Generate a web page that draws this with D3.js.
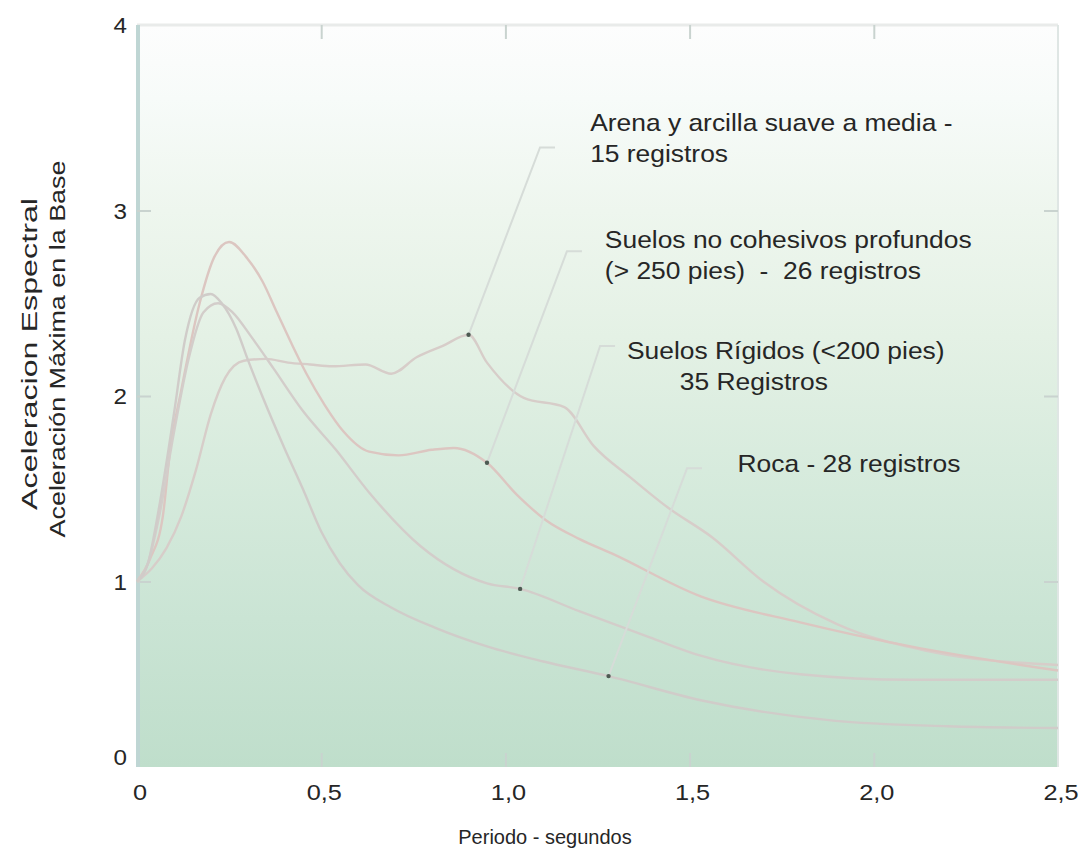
<!DOCTYPE html>
<html><head><meta charset="utf-8">
<script src="https://cdn.jsdelivr.net/npm/d3@7"></script>
<style>
body{margin:0;background:#fff;}
svg{display:block;}
text{font-family:"Liberation Sans",Arial,sans-serif;fill:#262626;}
</style>
</head><body><svg id="c" width="1081" height="852"></svg>
<script>
// ---- data ----
const xTicks=[0,0.5,1,1.5,2,2.5];
const xTickLabels=["0","0,5","1,0","1,5","2,0","2,5"];
const yTicks=[0,1,2,3,4];
const yTickLabels=["0","1","2","3","4"];
const xTitle="Periodo - segundos";
const yTitleLines=["Aceleracion Espectral","Aceleración Máxima en la Base"];

const periodArena=[0,0.04,0.08,0.12,0.16,0.2,0.24,0.29,0.35,0.41,0.47,0.53,0.62,0.69,0.76,0.83,0.9,0.95,1.05,1.16,1.24,1.34,1.44,1.56,1.7,1.9,2.16,2.5];
const accelArena=[1,1.07,1.18,1.35,1.6,1.9,2.1,2.19,2.2,2.18,2.17,2.16,2.17,2.12,2.21,2.27,2.33,2.18,1.99,1.94,1.73,1.56,1.4,1.24,1.0,0.77,0.62,0.55];

const periodCohesivos=[0,0.035,0.07,0.09,0.12,0.17,0.21,0.25,0.3,0.34,0.38,0.42,0.46,0.51,0.56,0.63,0.71,0.8,0.86,0.95,1.03,1.11,1.2,1.29,1.53,1.8,2.1,2.5];
const accelCohesivos=[1,1.12,1.35,1.71,2.03,2.5,2.75,2.83,2.74,2.62,2.45,2.28,2.12,1.95,1.81,1.7,1.68,1.71,1.72,1.64,1.47,1.33,1.23,1.15,0.92,0.78,0.65,0.52];

const periodRigidos=[0,0.03,0.06,0.1,0.14,0.18,0.22,0.26,0.31,0.37,0.45,0.54,0.63,0.77,0.95,1.04,1.2,1.39,1.53,1.8,2.1,2.5];
const accelRigidos=[1,1.1,1.35,1.8,2.2,2.45,2.5,2.45,2.32,2.15,1.92,1.71,1.48,1.19,0.99,0.96,0.84,0.7,0.6,0.5,0.47,0.47];

const periodRoca=[0,0.03,0.06,0.1,0.13,0.17,0.2,0.23,0.27,0.3,0.34,0.4,0.45,0.5,0.55,0.6,0.69,0.81,0.95,1.1,1.28,1.53,1.89,2.2,2.5];
const accelRoca=[1,1.1,1.4,1.9,2.3,2.53,2.55,2.5,2.36,2.2,2.0,1.72,1.5,1.27,1.1,0.98,0.86,0.75,0.65,0.57,0.49,0.36,0.25,0.22,0.21];

// annotation: marker point on curve, leader end, label lines
const markerPeriod=[0.9,0.95,1.04,1.28];
const markerAccel=[2.33,1.64,0.96,0.49];
const leaderPeriod=[1.094,1.167,1.257,1.493];
const leaderAccel=[3.34,2.78,2.27,1.61];
const labelLines=[
  ["Arena y arcilla suave a media -","15 registros"],
  ["Suelos no cohesivos profundos","(> 250 pies)  -  26 registros"],
  ["Suelos Rígidos (<200 pies)","35 Registros"],
  ["Roca - 28 registros"]
];
const labelPeriod=[1.23,1.27,1.33,1.63];
const labelAccel=[3.43,2.8,2.2,1.59];
const secondLineIndent=[0,0,48,0];

// ---- chart ----
const W=1081,H=852;
const L=137,R=1058,T=25,B=767;
const x=d3.scaleLinear().domain([0,2.5]).range([L,R]);
const y=d3.scaleLinear().domain([0,4]).range([B,T]);
const svg=d3.select("#c");

const defs=svg.append("defs");
const g=defs.append("linearGradient").attr("id","bg").attr("x1",0).attr("y1",0).attr("x2",0).attr("y2",1);
[[0,"#fdfdfd"],[0.1,"#f7fbf9"],[0.25,"#eef6ee"],[0.42,"#e4f1e5"],[0.6,"#d7ebdd"],[0.8,"#cae4d4"],[1,"#bfdecb"]]
 .forEach(s=>g.append("stop").attr("offset",s[0]).attr("stop-color",s[1]));

svg.append("rect").attr("x",L).attr("y",T).attr("width",R-L).attr("height",B-T).attr("fill","url(#bg)");

// frame
svg.append("line").attr("x1",L).attr("x2",R).attr("y1",T).attr("y2",T).attr("stroke","#e9ebea").attr("stroke-width",3);
svg.append("line").attr("x1",L+1).attr("x2",L+1).attr("y1",T).attr("y2",B).attr("stroke","#bfd6d4").attr("stroke-width",4);
svg.append("line").attr("x1",R).attr("x2",R).attr("y1",T).attr("y2",B).attr("stroke","#dfe6e4").attr("stroke-width",2);

// inner ticks
const tickCol="#c9d3cf";
svg.append("g").attr("transform",`translate(0,${B})`).call(d3.axisBottom(x).tickValues(xTicks.slice(1,-1)).tickSize(-14).tickFormat(""))
  .call(a=>{a.select(".domain").remove();a.selectAll("line").attr("stroke",tickCol).attr("stroke-width",2);});
svg.append("g").attr("transform",`translate(0,${T})`).call(d3.axisTop(x).tickValues(xTicks.slice(1,-1)).tickSize(-14).tickFormat(""))
  .call(a=>{a.select(".domain").remove();a.selectAll("line").attr("stroke",tickCol).attr("stroke-width",2);});
svg.append("g").attr("transform",`translate(${L},0)`).call(d3.axisLeft(y).tickValues(yTicks.slice(1,-1)).tickSize(-14).tickFormat(""))
  .call(a=>{a.select(".domain").remove();a.selectAll("line").attr("stroke",tickCol).attr("stroke-width",2);});
svg.append("g").attr("transform",`translate(${R},0)`).call(d3.axisRight(y).tickValues(yTicks.slice(1,-1)).tickSize(-14).tickFormat(""))
  .call(a=>{a.select(".domain").remove();a.selectAll("line").attr("stroke",tickCol).attr("stroke-width",2);});

// tick labels
svg.append("g").selectAll("text").data(xTicks).join("text")
  .attr("transform",d=>`translate(${x(d)+3},${B+33}) scale(1.15,1)`).attr("text-anchor","middle")
  .attr("font-size",22).text((d,i)=>xTickLabels[i]);
svg.append("g").selectAll("text").data(yTicks).join("text")
  .attr("transform",d=>`translate(${L-10},${y(d)+(d===0?-2:8)}) scale(1.1,1)`).attr("text-anchor","end")
  .attr("font-size",22).text((d,i)=>yTickLabels[i]);

// titles
svg.append("text").attr("x",545).attr("y",844).attr("text-anchor","middle").attr("font-size",20).text(xTitle);
const yTitleLen=[312,377];
yTitleLines.forEach((t,i)=>{
  svg.append("text").attr("transform",`translate(${37+i*28},${i===0?354:349}) rotate(-90)`)
    .attr("text-anchor","middle").attr("font-size",22)
    .attr("textLength",yTitleLen[i]).attr("lengthAdjust","spacingAndGlyphs").text(t);
});

// curves
const line=d3.line().x(d=>x(d[0])).y(d=>y(d[1])).curve(d3.curveMonotoneX);
const series=[
  [periodArena,accelArena,"#d7cdc9"],
  [periodCohesivos,accelCohesivos,"#dcc6c1"],
  [periodRigidos,accelRigidos,"#d3cdca"],
  [periodRoca,accelRoca,"#d0ccc9"]
];
series.forEach(s=>{
  const pts=s[0].map((p,i)=>[p,s[1][i]]);
  svg.append("path").attr("d",line(pts)).attr("fill","none").attr("stroke",s[2]).attr("stroke-width",2.4);
});

// leaders
markerPeriod.forEach((p,i)=>{
  svg.append("polyline")
    .attr("points",[[x(p),y(markerAccel[i])],[x(leaderPeriod[i]),y(leaderAccel[i])],[x(leaderPeriod[i])+15,y(leaderAccel[i])]].map(q=>q.join(",")).join(" "))
    .attr("fill","none").attr("stroke","#d6dcd8").attr("stroke-width",2);
  svg.append("circle").attr("cx",x(p)).attr("cy",y(markerAccel[i])).attr("r",2.2).attr("fill","#4d5a52");
});

// labels
labelLines.forEach((ls,i)=>{
  const t=svg.append("text").attr("transform",`translate(${x(labelPeriod[i])},${y(labelAccel[i])}) scale(1.1,1)`).attr("font-size",24);
  ls.forEach((s,j)=>t.append("tspan").attr("x",j===0?0:secondLineIndent[i]).attr("dy",j===0?0:31).style("white-space","pre").text(s));
});
</script></body></html>
